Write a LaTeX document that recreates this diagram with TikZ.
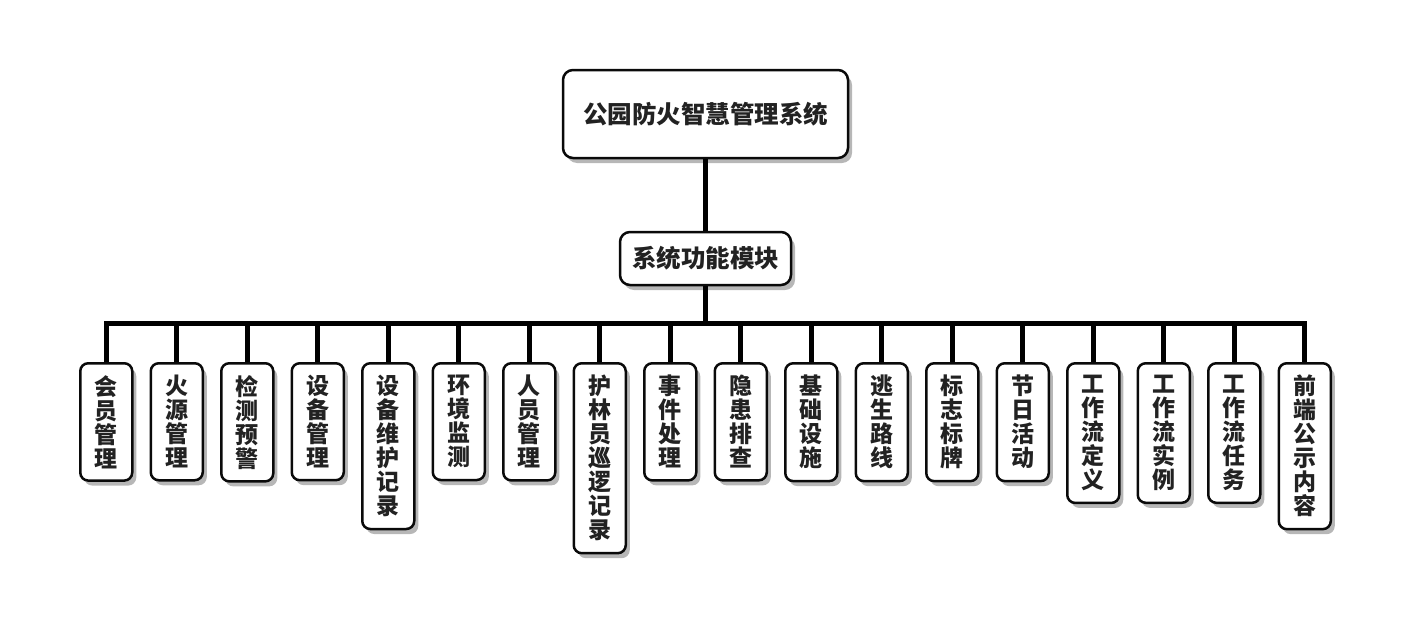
\documentclass[tikz,border=0pt]{standalone}
\usepackage{fontspec}
\usepackage{tikz}
\usetikzlibrary{trees,shadows,positioning}
\newfontfamily\cjk{Noto Sans CJK SC}
\definecolor{boxline}{RGB}{10,10,10}
\definecolor{boxtext}{RGB}{34,34,34}

\begin{document}
\begin{tikzpicture}[
  x=1pt, y=1pt,
  box/.style={rectangle, draw=boxline, fill=white, line width=2.5pt,
              drop shadow={shadow xshift=4pt, shadow yshift=-5pt, opacity=0.4, fill=black!70},
              text=boxtext, font=\cjk\bfseries},
  rootbox/.style={box, rounded corners=10pt, minimum width=285pt, minimum height=88pt,
                  font=\cjk\bfseries\fontsize{24.5}{28}\selectfont},
  modbox/.style={box, rounded corners=10pt, minimum width=171pt, minimum height=53pt,
                 font=\cjk\bfseries\fontsize{24.5}{28}\selectfont},
  leaf/.style={box, rounded corners=8pt, anchor=north, minimum width=52pt,
               align=center, inner ysep=12pt, inner xsep=2pt,
               font=\cjk\bfseries\fontsize{23}{24}\selectfont},
  edge from parent/.style={draw=black, line width=5pt},
  parent anchor=south, child anchor=north,
  level 1/.style={level distance=144.5pt},
  level 2/.style={sibling distance=70.5pt, level distance=103.5pt,
                  edge from parent path={(\tikzparentnode\tikzparentanchor)
                    -- ++(0,-37) -| (\tikzchildnode\tikzchildanchor)}}
]
  \useasboundingbox (0,0) rectangle (1409,-632);
  \node[rootbox] (root) at (705.5,-114) {公园防火智慧管理系统}
    child { node[modbox] (mod) {系统功能模块}
      child { node[leaf] (m1) {会\\员\\管\\理} }
      child { node[leaf] (m2) {火\\源\\管\\理} }
      child { node[leaf] (m3) {检\\测\\预\\警} }
      child { node[leaf] (m4) {设\\备\\管\\理} }
      child { node[leaf] (m5) {设\\备\\维\\护\\记\\录} }
      child { node[leaf] (m6) {环\\境\\监\\测} }
      child { node[leaf] (m7) {人\\员\\管\\理} }
      child { node[leaf] (m8) {护\\林\\员\\巡\\逻\\记\\录} }
      child { node[leaf] (m9) {事\\件\\处\\理} }
      child { node[leaf] (m10) {隐\\患\\排\\查} }
      child { node[leaf] (m11) {基\\础\\设\\施} }
      child { node[leaf] (m12) {逃\\生\\路\\线} }
      child { node[leaf] (m13) {标\\志\\标\\牌} }
      child { node[leaf] (m14) {节\\日\\活\\动} }
      child { node[leaf] (m15) {工\\作\\流\\定\\义} }
      child { node[leaf] (m16) {工\\作\\流\\实\\例} }
      child { node[leaf] (m17) {工\\作\\流\\任\\务} }
      child { node[leaf] (m18) {前\\端\\公\\示\\内\\容} }
    };
\end{tikzpicture}
\end{document}
